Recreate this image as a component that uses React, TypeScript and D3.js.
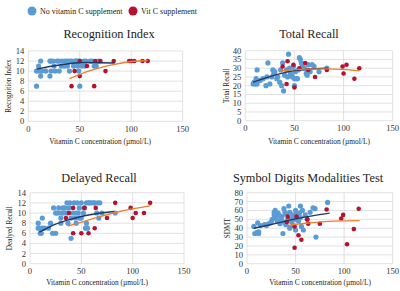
import React from "react";
import * as d3 from "d3";

type P = [number, number];

// ---------- Recognition Index ----------
const riNo: P[] = [[8,7],[8,10],[10,11],[11,10],[12,12],[12,9],[13,10],[17,10],[21,12],[22,12],[22,10],[21,9],[24,12],[25,11],[26,10],[28,12],[30,10],[30,12],[32,11],[33,12],[35,11],[36,12],[38,11],[38,12],[40,12],[40,10],[42,12],[44,11],[45,12],[46,12],[47,12],[48,11],[48,12],[49,10],[50,7],[50,12],[52,11],[54,12],[55,11],[56,12],[60,12],[62,12],[64,11],[66,11],[68,12]];
const riVit: P[] = [[42,7],[45,10],[50,9],[50,12],[57,11],[64,7],[65,12],[70,12],[75,10],[83,12],[98,12],[100,12],[103,12],[111,12],[116,12]];
const riTrendNo: P[] = [[8,10.4],[30,11.2],[55,11.7],[84,11.6]];
const riTrendVit: P[] = [[40,8.5],[60,10.1],[80,11.2],[100,11.9],[116,12.1]];

// ---------- Total Recall ----------
const trNo: P[] = [[8,21],[9,22],[10,21],[11,24],[12,29],[12,21],[15,23],[18,24],[21,20],[22,25],[23,33],[25,21],[27,25],[28,29],[29,27],[30,28],[32,24],[33,25],[35,22],[36,29],[37,20],[38,33],[39,17],[40,26],[42,29],[43,25],[44,38],[45,30],[46,27],[47,26],[48,25],[49,31],[50,24],[50,20],[51,28],[52,24],[53,24],[54,29],[55,36],[56,35],[57,33],[58,31],[60,30],[62,27],[63,26],[64,32],[66,28],[68,32],[70,31],[75,28],[83,30]];
const trVit: P[] = [[38,31],[43,34],[42,21],[49,32],[50,19],[55,30],[61,33],[64,29],[71,25],[83,29],[99,31],[100,27],[103,32],[111,24],[116,30]];
const trTrendNo: P[] = [[8,22],[30,26],[50,28.6],[70,29.7],[84,30]];
const trTrendVit: P[] = [[35,28.3],[60,29.5],[85,29.6],[116,28.5]];

// ---------- Delayed Recall ----------
const drNo: P[] = [[8,7],[8,8],[9,7],[10,6],[11,6],[12,9],[12,7],[14,7],[18,7],[20,8],[22,6],[23,11],[25,10],[25,6],[26,10],[28,10],[28,11],[30,9],[30,8],[31,10],[32,11],[33,10],[34,11],[36,10],[36,12],[37,8],[38,11],[39,12],[40,5],[40,9],[42,10],[43,12],[44,9],[45,8],[45,10],[46,12],[47,10],[48,9],[48,11],[50,12],[50,9],[52,10],[53,11],[54,7],[55,12],[55,8],[56,7],[57,12],[58,12],[60,12],[62,12],[63,12],[65,10],[66,12],[67,9],[68,12],[70,10],[83,10]];
const drVit: P[] = [[35,9],[38,10],[42,11],[42,6],[50,6],[53,11],[57,6],[64,11],[63,7],[75,9],[83,12],[98,11],[100,9],[103,10],[111,10],[117,12]];
const drTrendNo: P[] = [[9,6.2],[25,7.8],[40,8.8],[60,9.7],[82,10.3]];
const drTrendVit: P[] = [[37,7.4],[60,8.8],[85,10.2],[117,11.4]];

// ---------- SDMT ----------
const sdNo: P[] = [[7,42],[8,34],[10,35],[11,46],[12,34],[12,36],[14,43],[18,44],[20,43],[22,45],[24,46],[25,47],[26,50],[28,58],[28,55],[29,60],[30,52],[31,48],[32,57],[33,55],[34,45],[35,50],[36,53],[37,34],[38,62],[38,47],[39,58],[40,56],[40,44],[42,50],[43,65],[44,58],[44,40],[45,50],[46,47],[47,55],[48,52],[48,43],[49,50],[50,60],[50,38],[51,55],[52,50],[53,48],[54,57],[55,65],[55,52],[56,42],[57,60],[58,38],[60,55],[62,50],[65,58],[68,63],[70,62],[71,30],[83,69]];
const sdVit: P[] = [[42,53],[41,47],[51,53],[53,32],[56,27],[49,18],[49,42],[62,50],[63,45],[75,45],[82,61],[97,51],[99,55],[110,39],[103,22],[115,62]];
const sdTrendNo: P[] = [[7,40],[30,45.5],[50,50.5],[70,54.5],[85,57]];
const sdTrendVit: P[] = [[42,43],[60,45.5],[90,48],[116,48.5]];

const xTicks = [0, 50, 100, 150];

const BLUE = "#5b9bd5";
const RED = "#b5122f";
const NAVY = "#203864";
const ORANGE = "#ed7d31";
const FONT = '"Liberation Serif", "Times New Roman", serif';
const TS: React.CSSProperties = { fontFamily: FONT };

interface PanelProps {
  title: string;
  ylabel: string;
  x0: number; x1: number; y0: number; y1: number;
  yMax: number; yStep: number;
  no: P[]; vit: P[]; tNo: P[]; tVit: P[];
  titleX: number; titleY: number; ylabX: number; xlabX: number; xlabY: number;
}

function Panel(p: PanelProps) {
  const x = d3.scaleLinear().domain([0, 150]).range([p.x0, p.x1]);
  const y = d3.scaleLinear().domain([0, p.yMax]).range([p.y1, p.y0]);
  const yTicks = d3.range(0, p.yMax + 0.001, p.yStep);
  const line = d3.line<P>().x(d => x(d[0])).y(d => y(d[1])).curve(d3.curveMonotoneX);
  return (
    <g>
      <text x={p.titleX} y={p.titleY} fontSize={12.3} textAnchor="middle" fill="#222" style={TS}>{p.title}</text>
      {yTicks.map(t => (
        <g key={"y" + t}>
          <line x1={p.x0} x2={p.x1} y1={y(t)} y2={y(t)} stroke="#d9d9d9" strokeWidth={0.8} />
          <text x={p.x0 - 4} y={y(t) + 3} fontSize={8.6} textAnchor="end" fill="#333" style={TS}>{t}</text>
        </g>
      ))}
      {xTicks.map(t => (
        <g key={"x" + t}>
          <line x1={x(t)} x2={x(t)} y1={p.y0} y2={p.y1} stroke="#d9d9d9" strokeWidth={0.8} />
          <text x={x(t)} y={p.y1 + 10.5} fontSize={8.6} textAnchor="middle" fill="#333" style={TS}>{t}</text>
        </g>
      ))}
      {p.no.map((d, i) => (
        <circle key={"n" + i} cx={x(d[0])} cy={y(d[1])} r={2.6} fill={BLUE} />
      ))}
      {p.vit.map((d, i) => (
        <circle key={"v" + i} cx={x(d[0])} cy={y(d[1])} r={2.3} fill={RED} />
      ))}
      <path d={line(p.tNo) || ""} fill="none" stroke={NAVY} strokeWidth={1.4} />
      <path d={line(p.tVit) || ""} fill="none" stroke={ORANGE} strokeWidth={1.4} />
      <text x={p.xlabX} y={p.xlabY} fontSize={7.4} textAnchor="middle" fill="#222" style={TS}>Vitamin C concentration (µmol/L)</text>
      <text transform={`translate(${p.ylabX},${(p.y0 + p.y1) / 2}) rotate(-90)`} fontSize={7.2} textAnchor="middle" fill="#222" style={TS}>{p.ylabel}</text>
    </g>
  );
}

export default function App() {
  return (
    <svg width={400} height={291} style={{ position: "absolute", left: 0, top: 0, background: "#fff" }}>
      <rect width={400} height={291} fill="#fff" />
      <circle cx={32} cy={11} r={4.5} fill={BLUE} />
      <text x={40} y={13.8} fontSize={8} fill="#222" style={TS}>No vitamin C supplement</text>
      <circle cx={133} cy={11} r={4.5} fill={RED} />
      <text x={141} y={13.8} fontSize={8} fill="#222" style={TS}>Vit C supplement</text>

      <Panel title="Recognition Index" ylabel="Recognition Index" x0={28.3} x1={182.7} y0={51} y1={121.3}
        yMax={14} yStep={2} no={riNo} vit={riVit} tNo={riTrendNo} tVit={riTrendVit}
        titleX={109} titleY={38} ylabX={11} xlabX={100} xlabY={144} />
      <Panel title="Total Recall" ylabel="Total Recall" x0={245.3} x1={392.7} y0={50.7} y1={120.7}
        yMax={40} yStep={5} no={trNo} vit={trVit} tNo={trTrendNo} tVit={trTrendVit}
        titleX={309} titleY={38} ylabX={229} xlabX={319} xlabY={144} />
      <Panel title="Delayed Recall" ylabel="Dealyed Recall" x0={30} x1={184} y0={192.7} y1={263.7}
        yMax={14} yStep={2} no={drNo} vit={drVit} tNo={drTrendNo} tVit={drTrendVit}
        titleX={99} titleY={182} ylabX={12} xlabX={97} xlabY={285} />
      <Panel title="Symbol Digits Modalities Test" ylabel="SDMT" x0={247} x1={392.7} y0={192.7} y1={263.7}
        yMax={80} yStep={10} no={sdNo} vit={sdVit} tNo={sdTrendNo} tVit={sdTrendVit}
        titleX={308} titleY={182} ylabX={230} xlabX={320} xlabY={285} />
    </svg>
  );
}
